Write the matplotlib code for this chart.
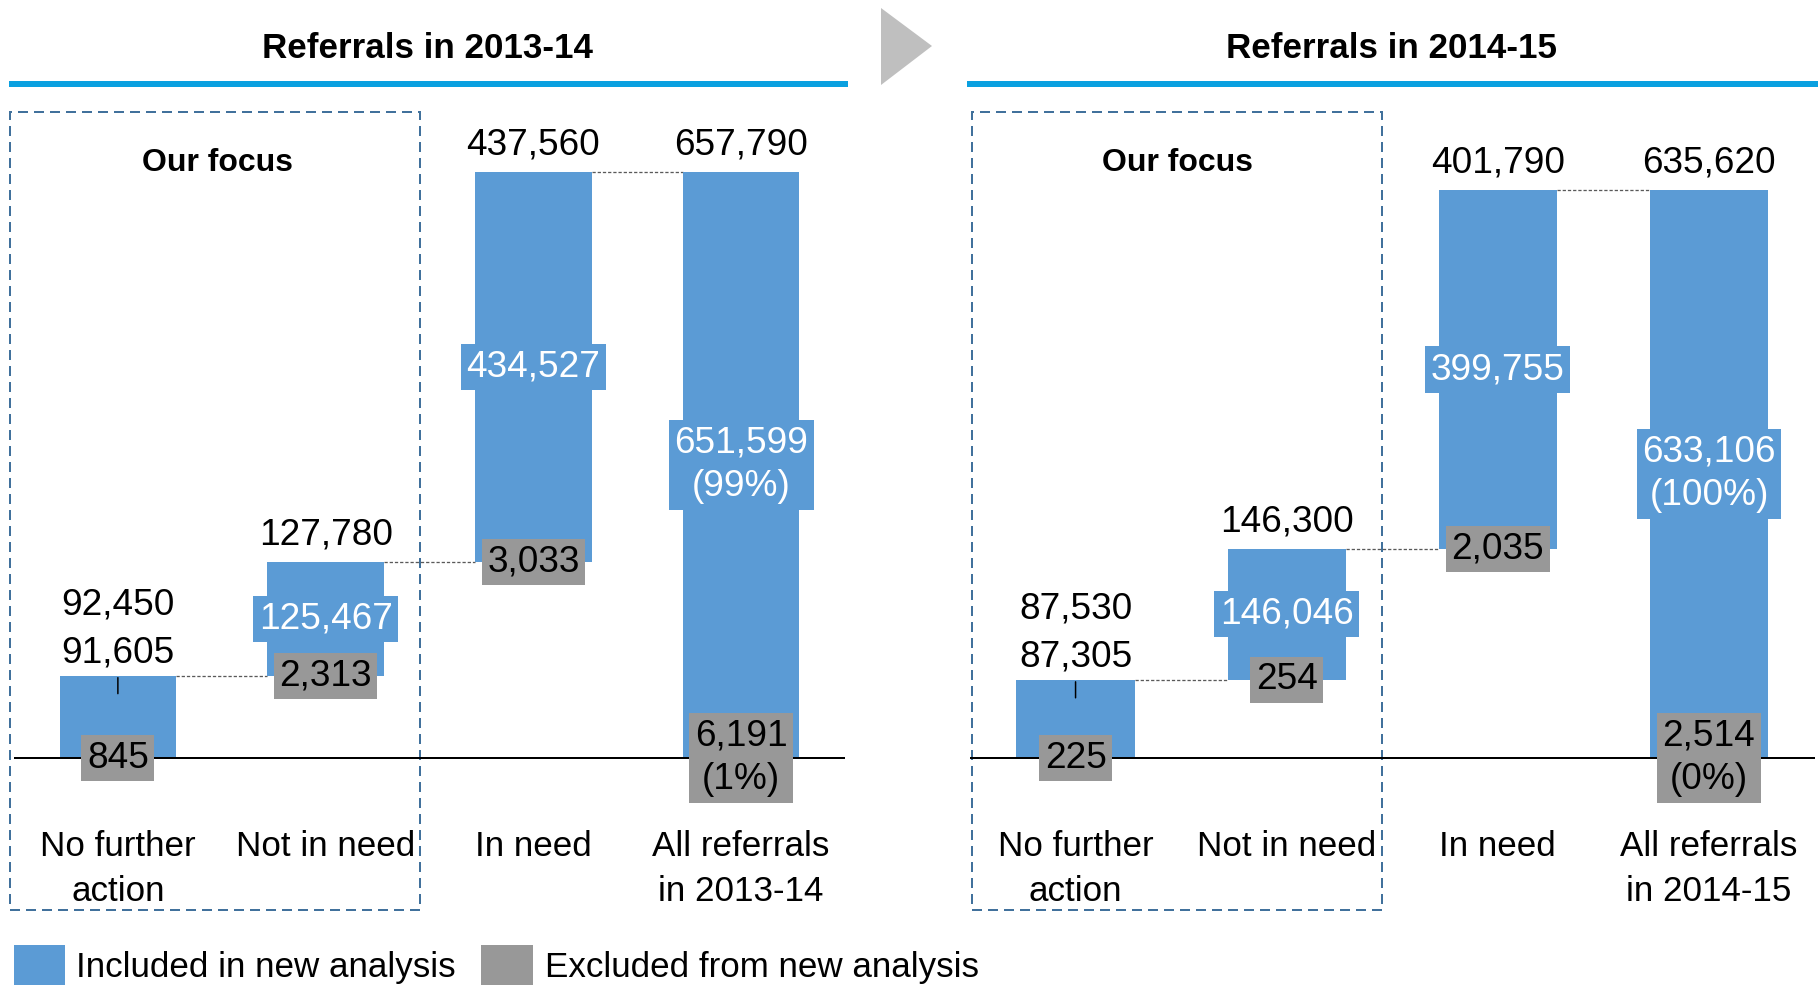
import numpy as np
import matplotlib
matplotlib.use("Agg")
import matplotlib.pyplot as plt
from matplotlib.patches import Rectangle, Polygon
from matplotlib.lines import Line2D

plt.rcParams['font.family'] = ['Liberation Sans', 'DejaVu Sans']

categories_1 = ["No further\naction", "Not in need", "In need", "All referrals\nin 2013-14"]
totals_1 = [92450, 127780, 437560, 657790]
included_1 = [91605, 125467, 434527, 651599]
excluded_1 = [845, 2313, 3033, 6191]
pct_inc_1 = "99%"
pct_exc_1 = "1%"

categories_2 = ["No further\naction", "Not in need", "In need", "All referrals\nin 2014-15"]
totals_2 = [87530, 146300, 401790, 635620]
included_2 = [87305, 146046, 399755, 633106]
excluded_2 = [225, 254, 2035, 2514]
pct_inc_2 = "100%"
pct_exc_2 = "0%"

titles = ["Referrals in 2013-14", "Referrals in 2014-15"]

BLUE = '#5B9BD5'
GREY = '#989898'
LINE_BLUE = '#0AA0E0'
BOX_COL = '#41719C'
NUM_FS = 37

DPI = 72
fig = plt.figure(figsize=(1818 / DPI, 985 / DPI), dpi=DPI)

# axes boxes in pixel coords (left, right), top=100, bottom=960
panels = [
    dict(cats=categories_1, tot=totals_1, inc=included_1, exc=excluded_1,
         pinc=pct_inc_1, pexc=pct_exc_1, x0=14, x1=845, ylim=(-0.3447, 1.1229),
         title=titles[0], tx=428, box=(-0.0043, 0.4924)),
    dict(cats=categories_2, tot=totals_2, inc=included_2, exc=excluded_2,
         pinc=pct_inc_2, pexc=pct_exc_2, x0=970, x1=1814.5, ylim=(-0.3556, 1.1585),
         title=titles[1], tx=1392, box=(0.0019, 0.486)),
]
W, H = 1818, 985
TOP, BOT = 100, 960
width = 0.56

fmt = lambda v: f"{v:,}"

for p in panels:
    ax = fig.add_axes([p['x0'] / W, 1 - BOT / H, (p['x1'] - p['x0']) / W, (BOT - TOP) / H])
    tot = np.array(p['tot'])
    n = len(tot)
    x = np.arange(n)
    bottoms = np.concatenate([[0], np.cumsum(tot[:-2]), [0]])
    grand = tot[-1]
    ax.set_xlim(-0.5, n - 0.5)
    ax.set_ylim(p['ylim'][0] * grand, p['ylim'][1] * grand)
    ax.axis('off')

    ax.bar(x, tot, width=width, bottom=bottoms, color=BLUE, zorder=2)
    ax.axhline(0, color='black', lw=2, zorder=3)

    # connectors
    tops = bottoms + tot
    for i in range(n - 1):
        ax.plot([x[i] + width / 2, x[i + 1] - width / 2], [tops[i], tops[i]],
                color='#595959', lw=1.3, ls=(0, (2.5, 1.5)), zorder=1)

    # labels
    for i in range(n):
        mid = bottoms[i] + tot[i] / 2
        if i == 0:
            ax.annotate(fmt(p['inc'][i]), (x[i], tops[i]), xytext=(0, 23),
                        textcoords='offset points', ha='center', va='center', fontsize=NUM_FS)
            ax.annotate(fmt(p['tot'][i]), (x[i], tops[i]), xytext=(0, 71),
                        textcoords='offset points', ha='center', va='center', fontsize=NUM_FS)
            ax.annotate('', (x[i], tops[i]), xytext=(0, -20), textcoords='offset points',
                        arrowprops=dict(arrowstyle='-', color='black', lw=1.5))
        else:
            ax.annotate(fmt(p['tot'][i]), (x[i], tops[i]), xytext=(0, 27),
                        textcoords='offset points', ha='center', va='center', fontsize=NUM_FS)
            inc_txt = fmt(p['inc'][i])
            if i == n - 1:
                inc_txt += f"\n({p['pinc']})"
            ax.text(x[i], mid, inc_txt, ha='center', va='center', fontsize=NUM_FS,
                    color='white', linespacing=1.3, zorder=5,
                    bbox=dict(boxstyle='square,pad=0.15', fc=BLUE, ec='none'))
        exc_txt = fmt(p['exc'][i])
        if i == n - 1:
            exc_txt += f"\n({p['pexc']})"
        ax.text(x[i], bottoms[i], exc_txt, ha='center', va='center', fontsize=NUM_FS,
                color='black', linespacing=1.3, zorder=6,
                bbox=dict(boxstyle='square,pad=0.15', fc=GREY, ec='none'))

        ax.annotate(p['cats'][i], (x[i], 0), xytext=(0, -72), textcoords='offset points',
                    ha='center', va='top', fontsize=35, linespacing=1.45)

    # focus box
    bx0, bw = p['box']
    ax.add_patch(Rectangle((bx0, 0.058), bw, 0.9275,
                           transform=ax.transAxes, fill=False, ec=BOX_COL, lw=2,
                           ls=(0, (5, 3)), clip_on=False, zorder=0))
    ax.text(0.2454, 0.927, "Our focus", transform=ax.transAxes, ha='center', va='center',
            fontsize=32, fontweight='bold')

    # title + blue rule
    fig.text(p['tx'] / W, 1 - 49 / H, p['title'], ha='center', va='center',
             fontsize=35, fontweight='bold')
    fig.add_artist(Line2D([11.6 / W if p is panels[0] else p['x0'] / W, p['x1'] / W],
                          [1 - 83.5 / H] * 2,
                          color=LINE_BLUE, lw=6, transform=fig.transFigure))

# grey arrow between panels
fig.add_artist(Polygon([[881 / W, 1 - 8 / H], [881 / W, 1 - 85 / H], [932 / W, 1 - 46 / H]],
                       closed=True, fc='#BFBFBF', ec='none', transform=fig.transFigure))

# legend
fig.add_artist(Rectangle((14 / W, 0), 51 / W, 40 / H, fc=BLUE, ec='none',
                         transform=fig.transFigure))
fig.text(76.5 / W, 17 / H, "Included in new analysis", va='center', fontsize=35)
fig.add_artist(Rectangle((481 / W, 0), 52 / W, 40 / H, fc=GREY, ec='none',
                         transform=fig.transFigure))
fig.text(545 / W, 17 / H, "Excluded from new analysis", va='center', fontsize=35)

fig.savefig("out.png", dpi=DPI)
